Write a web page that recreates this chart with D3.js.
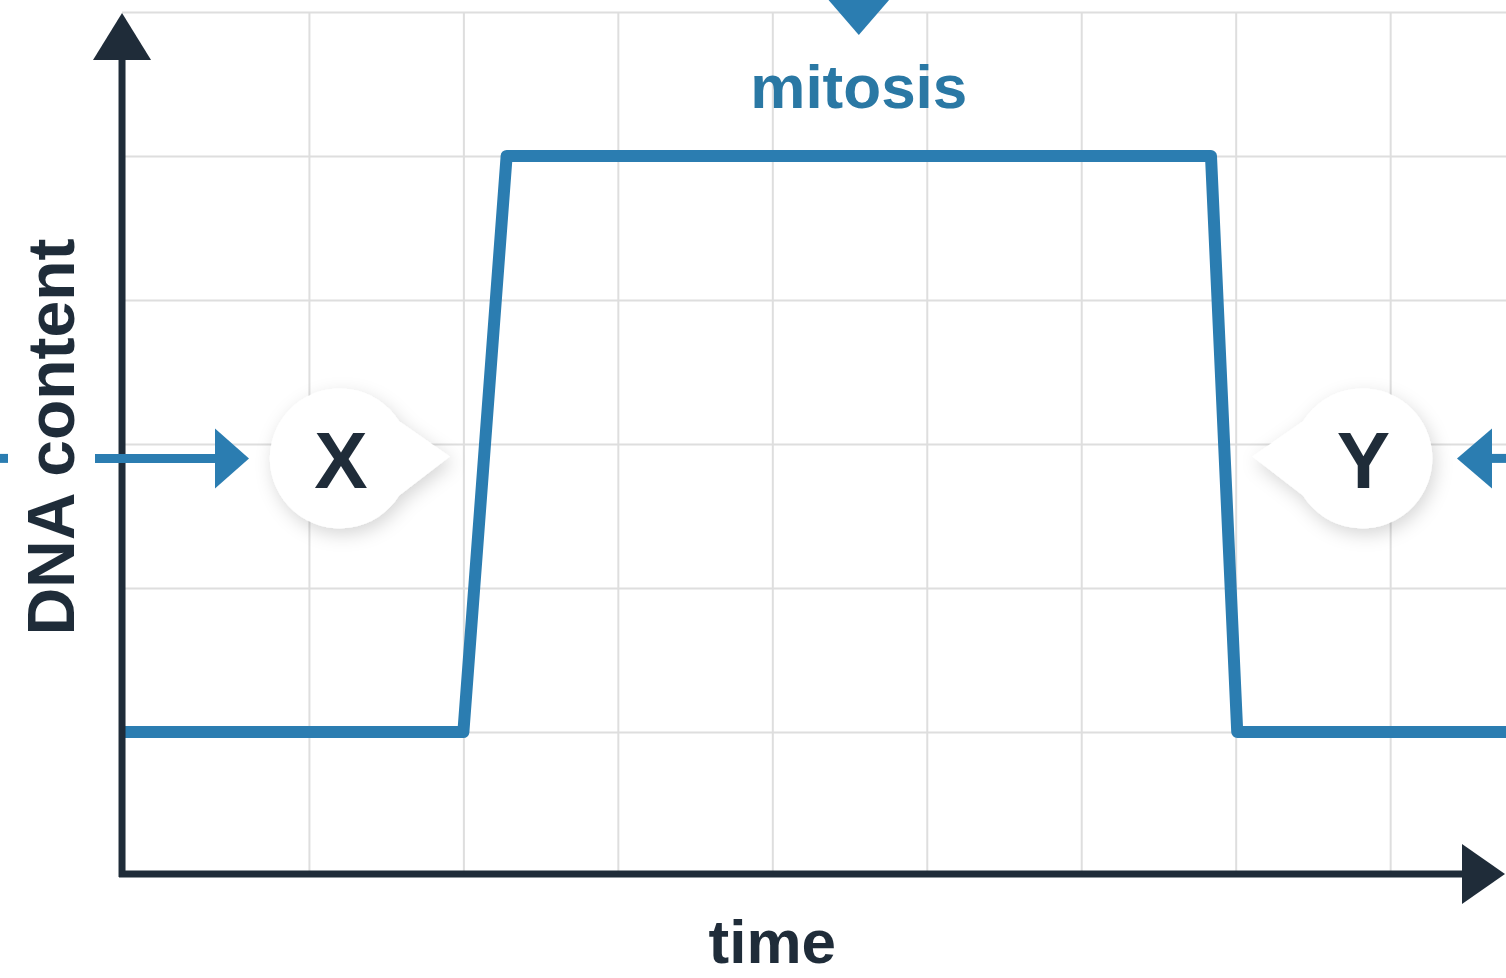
<!DOCTYPE html>
<html>
<head>
<meta charset="utf-8">
<script src="https://cdn.jsdelivr.net/npm/d3@7"></script>
<style>
  html, body { margin: 0; padding: 0; background: #ffffff; }
  svg { display: block; }
</style>
</head>
<body>
<svg id="chart" width="1506" height="978"></svg>
<script>
// ---- data (grid units) ----
const timePoints = [0.79, 3.0, 3.28, 7.84, 8.01, 9.75];
const dnaValues  = [1, 1, 5, 5, 1, 1];
const gridTimes  = [2, 3, 4, 5, 6, 7, 8, 9];
const gridLevels = [1, 2, 3, 4, 5, 6];
const xLabel = "time";
const yLabel = "DNA content";
const phaseLabel = "mitosis";
const callouts = [
  { label: "X", t: 2.2, v: 2.9, side: "right" },
  { label: "Y", t: 8.82, v: 2.9, side: "left" }
];

const W = 1506, H = 978;
const BLUE = "#2b7db1", DARK = "#1f2c39", GRID = "#dedede";
const svg = d3.select("#chart");

const x = d3.scaleLinear().domain([0, 9.75]).range([0, W]);
const y = d3.scaleLinear().domain([0, 6]).range([876, 12]);
const x0 = x(timePoints[0]);   // y-axis position

// shadow filter
const defs = svg.append("defs");
const f = defs.append("filter").attr("id", "shadow")
  .attr("x", "-50%").attr("y", "-50%").attr("width", "200%").attr("height", "200%");
f.append("feDropShadow").attr("dx", 3).attr("dy", 6).attr("stdDeviation", 9)
  .attr("flood-color", "#000").attr("flood-opacity", 0.16);

// ---- grid via axes ----
const gx = svg.append("g").attr("transform", `translate(0,${y(0)})`)
  .call(d3.axisBottom(x).tickValues(gridTimes).tickSize(-(y(0) - y(6))).tickFormat(""));
gx.select(".domain").remove();
gx.selectAll(".tick line").attr("stroke", GRID).attr("stroke-width", 2);

const gy = svg.append("g").attr("transform", `translate(${x0},0)`)
  .call(d3.axisLeft(y).tickValues(gridLevels).tickSize(-(W - x0)).tickFormat(""));
gy.select(".domain").remove();
gy.selectAll(".tick line").attr("stroke", GRID).attr("stroke-width", 2);

// ---- step line ----
const line = d3.line().x((d, i) => x(timePoints[i])).y(d => y(d));
svg.append("path").datum(dnaValues)
  .attr("d", line)
  .attr("fill", "none").attr("stroke", BLUE).attr("stroke-width", 12)
  .attr("stroke-linejoin", "round");

// ---- axes with arrowheads ----
const axY = y(0) - 2;
svg.append("line").attr("x1", x0).attr("x2", x0).attr("y1", axY + 3).attr("y2", 58)
  .attr("stroke", DARK).attr("stroke-width", 7);
svg.append("path").attr("d", `M${x0},13 L${x0 + 29},60 L${x0 - 29},60 Z`).attr("fill", DARK);
svg.append("line").attr("x1", x0 - 3).attr("x2", 1464).attr("y1", axY).attr("y2", axY)
  .attr("stroke", DARK).attr("stroke-width", 7);
svg.append("path").attr("d", `M1505,${axY} L1462,${axY - 30} L1462,${axY + 30} Z`).attr("fill", DARK);

// ---- axis labels ----
svg.append("text").text(xLabel)
  .attr("x", x(5)).attr("y", 963).attr("text-anchor", "middle")
  .attr("font-family", "Liberation Sans, Arial, sans-serif").attr("font-weight", "bold")
  .attr("font-size", 62).attr("fill", DARK);
svg.append("text").text(yLabel)
  .attr("transform", `translate(74,437) rotate(-90)`).attr("text-anchor", "middle")
  .attr("font-family", "Liberation Sans, Arial, sans-serif").attr("font-weight", "bold")
  .attr("font-size", 66).attr("fill", DARK);

// ---- mitosis marker ----
const mx = x((timePoints[2] + timePoints[3]) / 2);
svg.append("path").attr("d", `M${mx - 32},-2 L${mx + 32},-2 L${mx},35 Z`).attr("fill", BLUE);
svg.append("text").text(phaseLabel)
  .attr("x", mx).attr("y", 108).attr("text-anchor", "middle")
  .attr("font-family", "Liberation Sans, Arial, sans-serif").attr("font-weight", "bold")
  .attr("font-size", 62).attr("fill", "#2a78a4");

// ---- side arrows ----
const ay = y(2.9);
// left arrow (toward X)
svg.append("line").attr("x1", 0).attr("x2", 8).attr("y1", ay).attr("y2", ay)
  .attr("stroke", BLUE).attr("stroke-width", 9);
svg.append("line").attr("x1", 95).attr("x2", 218).attr("y1", ay).attr("y2", ay)
  .attr("stroke", BLUE).attr("stroke-width", 9);
svg.append("path").attr("d", `M249,${ay} L215,${ay - 30} L215,${ay + 30} Z`).attr("fill", BLUE);
// right arrow (toward Y)
svg.append("line").attr("x1", 1489).attr("x2", W).attr("y1", ay).attr("y2", ay)
  .attr("stroke", BLUE).attr("stroke-width", 9);
svg.append("path").attr("d", `M1457,${ay} L1492,${ay - 30} L1492,${ay + 30} Z`).attr("fill", BLUE);

// ---- callouts ----
callouts.forEach(c => {
  const cx = x(c.t);
  const cy = y(c.v);
  const r = 70;
  const dir = c.side === "right" ? 1 : -1;
  const tipX = cx + dir * 110, tipY = cy - 2;
  const a = 32 * Math.PI / 180;
  let d;
  if (dir === 1) {
    d = `M${tipX},${tipY} L${cx + r * Math.cos(a)},${cy + r * Math.sin(a)} ` +
        `A${r},${r} 0 1 1 ${cx + r * Math.cos(a)},${cy - r * Math.sin(a)} Z`;
  } else {
    d = `M${tipX},${tipY} L${cx - r * Math.cos(a)},${cy - r * Math.sin(a)} ` +
        `A${r},${r} 0 1 1 ${cx - r * Math.cos(a)},${cy + r * Math.sin(a)} Z`;
  }
  svg.append("path").attr("d", d).attr("fill", "#ffffff").attr("filter", "url(#shadow)");
  svg.append("text").text(c.label)
    .attr("x", cx + 1).attr("y", cy + 30).attr("text-anchor", "middle")
    .attr("font-family", "Liberation Sans, Arial, sans-serif").attr("font-weight", "bold")
    .attr("font-size", 80).attr("fill", DARK);
});
</script>
</body>
</html>
